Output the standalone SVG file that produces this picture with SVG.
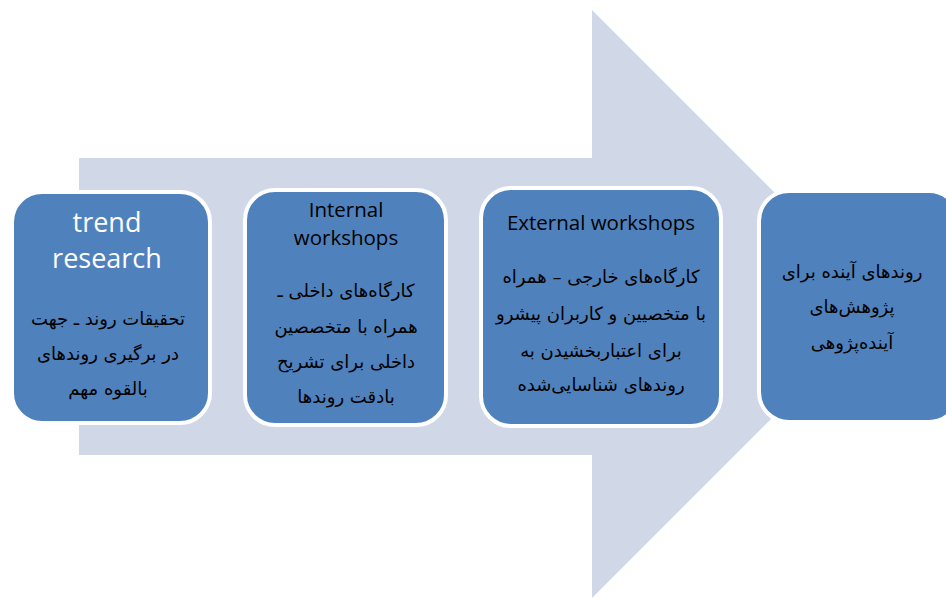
<svg xmlns="http://www.w3.org/2000/svg" width="946" height="598" viewBox="0 0 946 598">
<style>
.box{fill:#4F81BD;stroke:#FFFFFF;stroke-width:4}
.en{font-family:"Open Sans","Liberation Sans",sans-serif;text-anchor:middle}
.fa{font-family:"DejaVu Sans","Noto Sans",sans-serif;font-size:18px;fill:#000;text-anchor:middle;direction:rtl}
</style>
<rect width="946" height="598" fill="#FFFFFF"/>
<g id="arrow">
<polygon points="79,158 592,158 592,10 886,304 592,598 592,455 79,455" fill="#D0D8E8"/>
</g>
<g id="connectors"></g>
<g id="node1">
<rect class="box" x="12" y="192" width="198" height="231" rx="30"/>
<text class="en" x="107" y="232" font-size="27" fill="#FFFFFF">trend</text>
<text class="en" x="107" y="268" font-size="27" fill="#FFFFFF">research</text>
<text class="fa" x="108" y="325">تحقیقات روند ـ جهت</text>
<text class="fa" x="108" y="360">در برگیری روندهای</text>
<text class="fa" x="108" y="395">بالقوه مهم</text>
</g>
<g id="node2">
<rect class="box" x="245" y="190" width="201" height="235" rx="30"/>
<text class="en" x="346" y="217" font-size="20.5" fill="#000">Internal</text>
<text class="en" x="346" y="245" font-size="20.5" fill="#000">workshops</text>
<text class="fa" x="346" y="297">کارگاه‌های داخلی ـ</text>
<text class="fa" x="346" y="333">همراه با متخصصین</text>
<text class="fa" x="346" y="368">داخلی برای تشریح</text>
<text class="fa" x="346" y="403">بادقت روندها</text>
</g>
<g id="node3">
<rect class="box" x="481" y="188" width="240" height="238" rx="30"/>
<text class="en" x="601" y="230" font-size="20.5" fill="#000">External workshops</text>
<text class="fa" x="601" y="283">کارگاه‌های خارجی – همراه</text>
<text class="fa" x="601" y="320">با متخصیین و کاربران پیشرو</text>
<text class="fa" x="601" y="357">برای اعتباربخشیدن به</text>
<text class="fa" x="601" y="391">روندهای شناسایی‌شده</text>
</g>
<g id="node4">
<rect class="box" x="759" y="191" width="200" height="231" rx="30"/>
<text class="fa" x="852" y="278">روندهای آینده برای</text>
<text class="fa" x="852" y="313">پژوهش‌های</text>
<text class="fa" x="852" y="349">آینده‌پژوهی</text>
</g>
</svg>
